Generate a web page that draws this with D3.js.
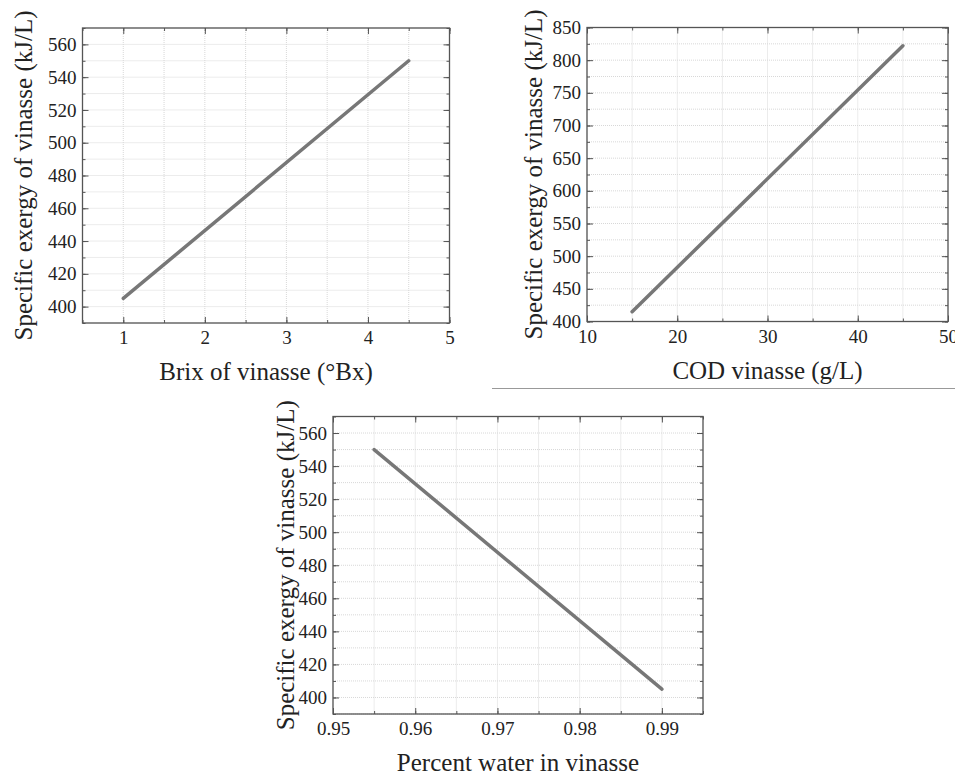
<!DOCTYPE html>
<html lang="en">
<head>
<meta charset="UTF-8">
<title>Specific exergy of vinasse</title>
<style>
    body {
        margin: 0;
        background: #fff;
        overflow: hidden;
    }
    svg {
        display: block;
    }
</style>
</head>
<body>
<svg width="955" height="775"></svg>
<script src="https://cdn.jsdelivr.net/npm/d3@7/dist/d3.min.js"></script>
<script>
// data
const brixX = [1, 4.5];
const brixY = [405, 550];
const codX = [15, 45];
const codY = [415, 822];
const waterX = [0.955, 0.99];
const waterY = [550, 405];

// axes
const brixTicks = [1, 2, 3, 4, 5];
const codTicks = [10, 20, 30, 40, 50];
const waterTicks = [0.95, 0.96, 0.97, 0.98, 0.99];
const exergyTicksA = [400, 420, 440, 460, 480, 500, 520, 540, 560];
const exergyTicksB = [400, 450, 500, 550, 600, 650, 700, 750, 800, 850];

const yTitle = "Specific exergy of vinasse (kJ/L)";
const SERIF = "'Liberation Serif', 'Times New Roman', serif";

const svg = d3.select("svg");

function panel(p) {
    const g = svg.append("g");
    const x = d3.scaleLinear().domain(p.xDomain).range([p.left, p.right]);
    const y = d3.scaleLinear().domain(p.yDomain).range([p.bottom, p.top]);

    const xMinor = d3.range(p.xDomain[0], p.xDomain[1] + p.xStep / 2, p.xStep);
    const yMinor = d3.range(p.yDomain[0], p.yDomain[1] + p.yStep / 2, p.yStep);

    // grid
    g.append("g").selectAll("line")
        .data(xMinor)
        .join("line")
        .attr("x1", d => x(d)).attr("x2", d => x(d))
        .attr("y1", p.top).attr("y2", p.bottom)
        .attr("stroke", "#d8d8d8")
        .attr("stroke-width", 1)
        .attr("stroke-dasharray", "1,1");
    g.append("g").selectAll("line")
        .data(yMinor)
        .join("line")
        .attr("y1", d => y(d)).attr("y2", d => y(d))
        .attr("x1", p.left).attr("x2", p.right)
        .attr("stroke", "#d8d8d8")
        .attr("stroke-width", 1)
        .attr("stroke-dasharray", "1,1");

    // ticks only, pointing inward
    const bareTicks = (sel, axis) => sel.call(axis)
        .call(a => a.select(".domain").remove())
        .call(a => a.selectAll("text").remove())
        .call(a => a.selectAll("line").attr("stroke", "#555"));

    bareTicks(g.append("g").attr("transform", `translate(0,${p.bottom})`),
        d3.axisBottom(x).tickValues(xMinor).tickSize(-3));
    bareTicks(g.append("g").attr("transform", `translate(0,${p.top})`),
        d3.axisTop(x).tickValues(xMinor).tickSize(-3));
    bareTicks(g.append("g").attr("transform", `translate(${p.left},0)`),
        d3.axisLeft(y).tickValues(yMinor).tickSize(-3));
    bareTicks(g.append("g").attr("transform", `translate(${p.right},0)`),
        d3.axisRight(y).tickValues(yMinor).tickSize(-3));

    bareTicks(g.append("g").attr("transform", `translate(0,${p.top})`),
        d3.axisTop(x).tickValues(p.xTicks).tickSize(-6));
    bareTicks(g.append("g").attr("transform", `translate(${p.right},0)`),
        d3.axisRight(y).tickValues(p.yTicks).tickSize(-6));

    // labelled axes
    const styleLabels = a => {
        a.select(".domain").remove();
        a.selectAll("line").attr("stroke", "#555");
        a.attr("font-family", null).attr("font-size", null);
        a.selectAll("text")
            .attr("fill", "#222")
            .style("font-family", SERIF)
            .style("font-size", "19px");
    };

    g.append("g")
        .attr("transform", `translate(0,${p.bottom})`)
        .call(d3.axisBottom(x).tickValues(p.xTicks).tickSize(-6).tickPadding(8).tickFormat(p.xFormat))
        .call(styleLabels);

    g.append("g")
        .attr("transform", `translate(${p.left},0)`)
        .call(d3.axisLeft(y).tickValues(p.yTicks).tickSize(-6).tickPadding(6))
        .call(styleLabels);

    // frame
    g.append("rect")
        .attr("x", p.left).attr("y", p.top)
        .attr("width", p.right - p.left).attr("height", p.bottom - p.top)
        .attr("fill", "none")
        .attr("stroke", "#555")
        .attr("stroke-width", 1.3);

    // series
    const pts = p.xs.map((v, i) => [v, p.ys[i]]);
    g.append("path")
        .datum(pts)
        .attr("d", d3.line().x(d => x(d[0])).y(d => y(d[1])))
        .attr("fill", "none")
        .attr("stroke", "#777")
        .attr("stroke-width", 3.5)
        .attr("stroke-linecap", "round");

    // titles
    g.append("text")
        .attr("x", (p.left + p.right) / 2)
        .attr("y", p.bottom + 57)
        .attr("text-anchor", "middle")
        .attr("fill", "#222")
        .style("font-family", SERIF)
        .style("font-size", "25px")
        .text(p.xTitle);

    g.append("text")
        .attr("transform", `translate(${p.yTitleX},${(p.top + p.bottom) / 2}) rotate(-90)`)
        .attr("text-anchor", "middle")
        .attr("dy", "0.35em")
        .attr("fill", "#222")
        .style("font-family", SERIF)
        .style("font-size", "25px")
        .text(yTitle);
}

panel({
    left: 82.5, right: 449.5, top: 28, bottom: 323,
    xDomain: [0.5, 5], yDomain: [390, 570], xStep: 0.5, yStep: 10,
    xTicks: brixTicks, yTicks: exergyTicksA, xFormat: d3.format("d"),
    xs: brixX, ys: brixY,
    xTitle: "Brix of vinasse (°Bx)", yTitleX: 23
});

panel({
    left: 587, right: 948, top: 27.5, bottom: 321.5,
    xDomain: [10, 50], yDomain: [400, 850], xStep: 5, yStep: 25,
    xTicks: codTicks, yTicks: exergyTicksB, xFormat: d3.format("d"),
    xs: codX, ys: codY,
    xTitle: "COD vinasse (g/L)", yTitleX: 533
});

panel({
    left: 333, right: 703, top: 416.5, bottom: 714,
    xDomain: [0.95, 0.995], yDomain: [390, 570], xStep: 0.005, yStep: 10,
    xTicks: waterTicks, yTicks: exergyTicksA, xFormat: d3.format(".2f"),
    xs: waterX, ys: waterY,
    xTitle: "Percent water in vinasse", yTitleX: 285
});

// thin separator rule under the right panel
svg.append("line")
    .attr("x1", 492).attr("x2", 955)
    .attr("y1", 388.5).attr("y2", 388.5)
    .attr("stroke", "#999")
    .attr("stroke-width", 1);
</script>
</body>
</html>
